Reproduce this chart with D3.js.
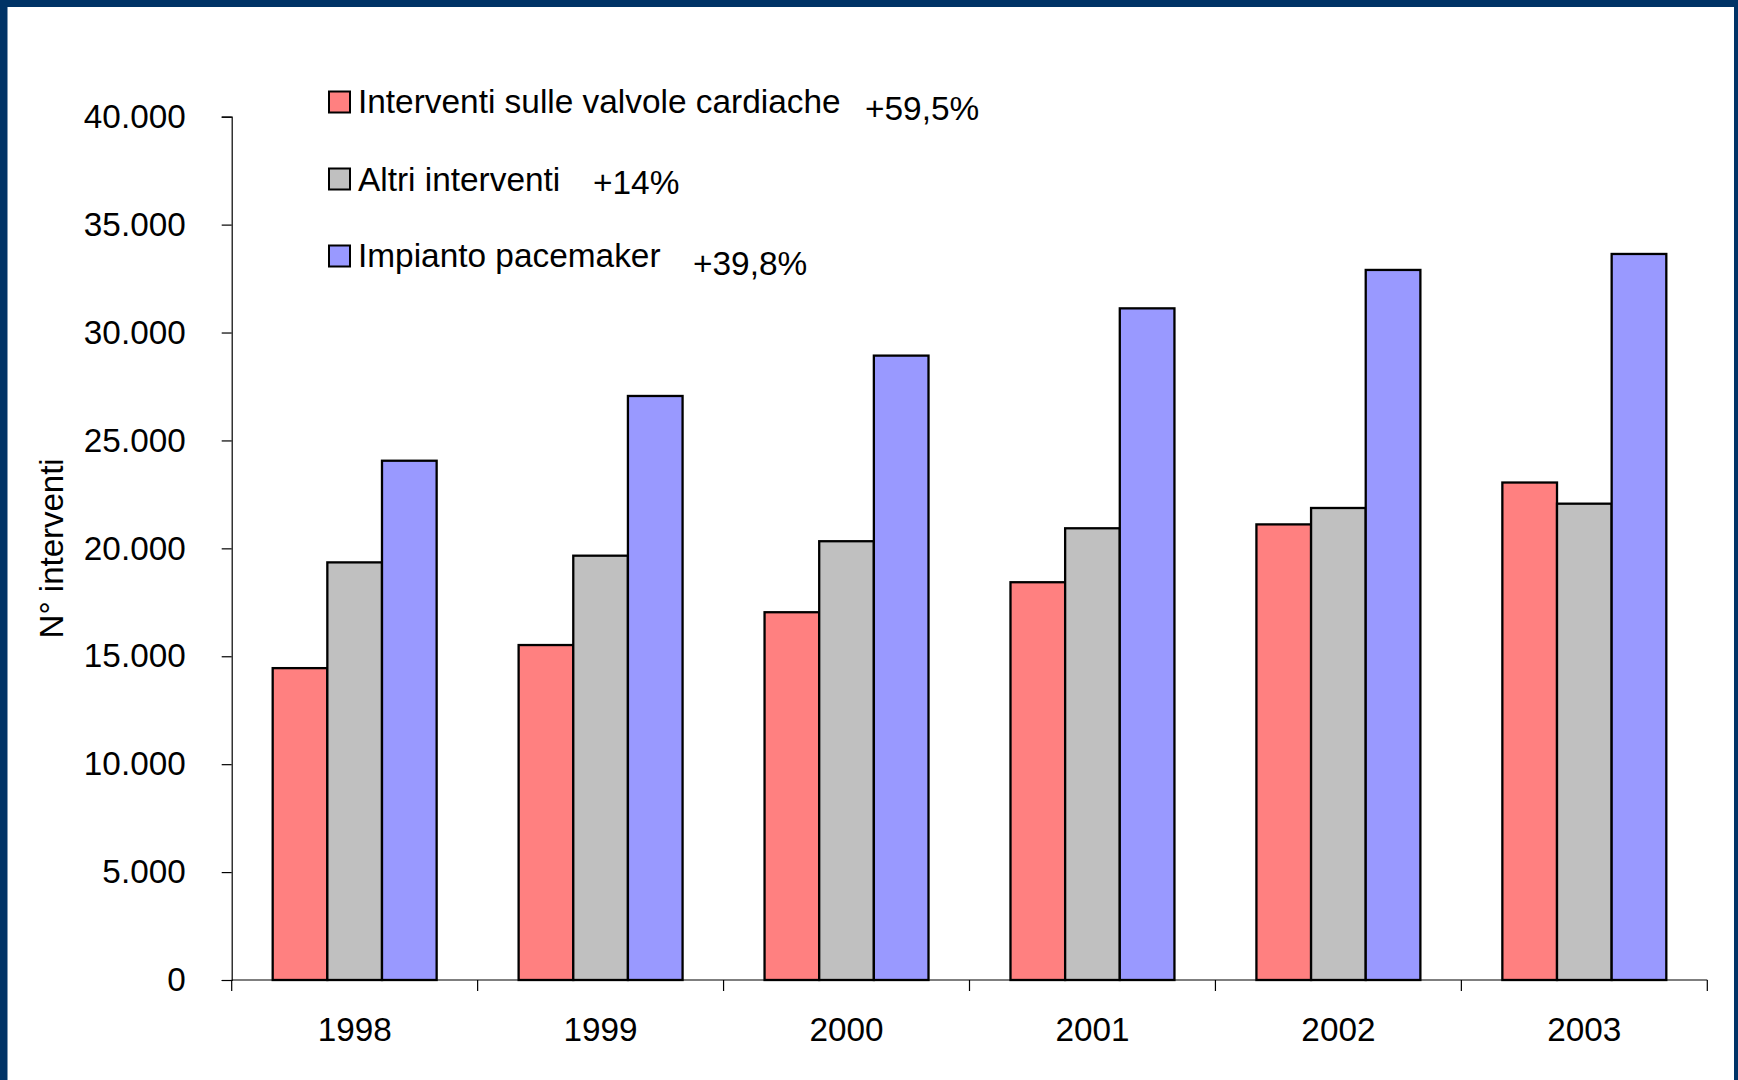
<!DOCTYPE html>
<html>
<head>
<meta charset="utf-8">
<script src="https://cdn.jsdelivr.net/npm/d3@7"></script>
<style>
  html, body { margin: 0; padding: 0; background: #ffffff; }
  svg { display: block; }
  text { font-family: "Liberation Sans", Arial, sans-serif; fill: #000; }
</style>
</head>
<body>
<svg id="chart" width="1738" height="1080"></svg>
<script>
// Years on the category axis
const years = ["1998", "1999", "2000", "2001", "2002", "2003"];

// Series names, as shown in the legend
const seriesNames = ["Interventi sulle valvole cardiache", "Altri interventi", "Impianto pacemaker"];

// Growth 1998–2003 printed beside each legend entry
const growthLabels = ["+59,5%", "+14%", "+39,8%"];

// Number of procedures per year
const valvoleValues   = [14450, 15520, 17040, 18430, 21110, 23050];
const altriValues     = [19350, 19660, 20330, 20930, 21870, 22070];
const pacemakerValues = [24060, 27060, 28930, 31120, 32900, 33640];

// Y axis ticks
const yTicks = [0, 5000, 10000, 15000, 20000, 25000, 30000, 35000, 40000];
const yTitle = "N° interventi";

const seriesColors = ["#FF8080", "#C0C0C0", "#9999FF"];
const seriesValues = [valvoleValues, altriValues, pacemakerValues];

const table = years.map((year, i) => ({
  year,
  values: seriesNames.map((name, s) => ({ name, s, value: seriesValues[s][i] }))
}));

const svg = d3.select("#chart");
const W = 1738, H = 1080;

// Slide frame
svg.append("rect").attr("x", 0).attr("y", 0).attr("width", W).attr("height", H).attr("fill", "#003366");
svg.append("rect").attr("x", 7.5).attr("y", 7).attr("width", W - 7.5 - 4).attr("height", H - 7).attr("fill", "#ffffff");

const plot = { left: 231.7, right: 1707.3, top: 116.7, bottom: 980 };

const y = d3.scaleLinear().domain([0, 40000]).range([plot.bottom, plot.top]);
const x0 = d3.scaleBand().domain(years).range([plot.left, plot.right]).paddingInner(0).paddingOuter(0);
const x1 = d3.scaleBand().domain(d3.range(seriesNames.length)).range([0, x0.bandwidth()])
  .paddingInner(0).paddingOuter(0.75);

const fmt = v => d3.format(",")(v).replace(/,/g, ".");

// Bars
const groups = svg.append("g").selectAll("g").data(table).join("g")
  .attr("transform", d => `translate(${x0(d.year)},0)`);
groups.selectAll("rect").data(d => d.values).join("rect")
  .attr("x", d => x1(d.s))
  .attr("y", d => y(d.value))
  .attr("width", x1.bandwidth())
  .attr("height", d => y(0) - y(d.value))
  .attr("fill", d => seriesColors[d.s])
  .attr("stroke", "#000")
  .attr("stroke-width", 2.3);

// Y axis
const yAxis = d3.axisLeft(y).tickValues(yTicks).tickFormat(fmt).tickSize(10).tickPadding(36);
const gy = svg.append("g").attr("transform", `translate(${plot.left},0)`).call(yAxis);
gy.select(".domain").attr("stroke", "#000").attr("stroke-width", 1.2);
gy.selectAll(".tick line").attr("stroke", "#000").attr("stroke-width", 1.2);
gy.selectAll(".tick text")
  .style("font-family", "'Liberation Sans', Arial, sans-serif")
  .style("font-size", "33.3px").attr("fill", "#000");

// X axis: ticks on the category boundaries
const gx = svg.append("g").attr("transform", `translate(0,${plot.bottom})`);
gx.append("line").attr("x1", plot.left).attr("x2", plot.right).attr("y1", 0).attr("y2", 0)
  .attr("stroke", "#000").attr("stroke-width", 1.2);
const boundaries = years.map(yr => x0(yr)).concat([plot.right]);
gx.selectAll("line.tk").data(boundaries).join("line").attr("class", "tk")
  .attr("x1", d => d).attr("x2", d => d).attr("y1", 0).attr("y2", 11)
  .attr("stroke", "#000").attr("stroke-width", 1.2);
gx.selectAll("text").data(years).join("text")
  .attr("x", d => x0(d) + x0.bandwidth() / 2)
  .attr("y", 61)
  .attr("text-anchor", "middle")
  .style("font-size", "33.3px")
  .text(d => d);

// Y axis title
svg.append("text")
  .attr("transform", `translate(62.5,${(plot.top + plot.bottom) / 2}) rotate(-90)`)
  .attr("text-anchor", "middle")
  .style("font-size", "33px")
  .text(yTitle);

// Legend
const legendRows = [
  { sq: 91.5, base: 113, pctX: 865, pctBase: 119.5 },
  { sq: 168.5, base: 190.5, pctX: 593, pctBase: 194 },
  { sq: 245.5, base: 267, pctX: 693, pctBase: 275 }
];
const legend = svg.append("g");
seriesNames.forEach((name, i) => {
  const r = legendRows[i];
  legend.append("rect")
    .attr("x", 329).attr("y", r.sq).attr("width", 21).attr("height", 21)
    .attr("fill", seriesColors[i]).attr("stroke", "#000").attr("stroke-width", 2);
  legend.append("text").attr("x", 358).attr("y", r.base)
    .style("font-size", "33.4px").text(name);
  legend.append("text").attr("x", r.pctX).attr("y", r.pctBase)
    .style("font-size", "33.4px").text(growthLabels[i]);
});
</script>
</body>
</html>
